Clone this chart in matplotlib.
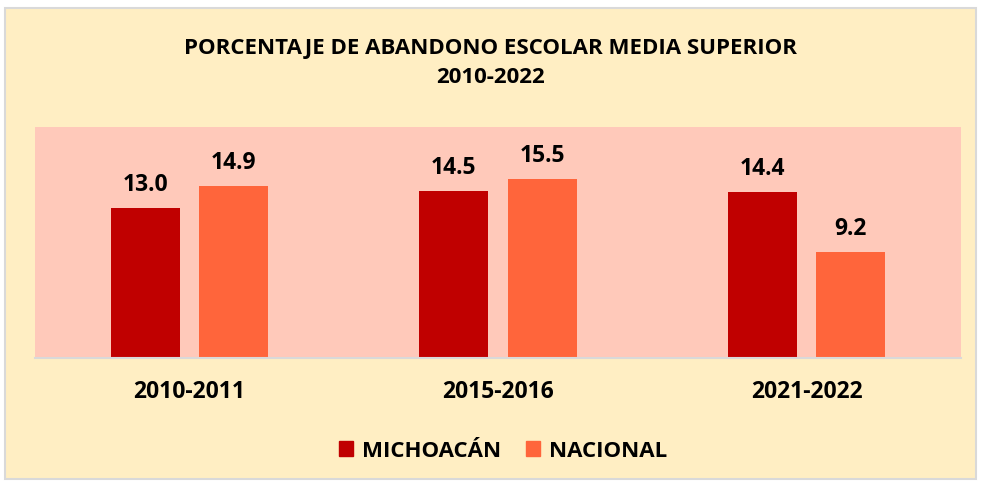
import numpy as np
import matplotlib.pyplot as plt
from matplotlib.patches import Rectangle, Patch

periods = ["2010-2011", "2015-2016", "2021-2022"]
michoacan = [13.0, 14.5, 14.4]
nacional = [14.9, 15.5, 9.2]
series_names = ["MICHOACÁN", "NACIONAL"]

title = "PORCENTAJE DE ABANDONO ESCOLAR MEDIA SUPERIOR\n2010-2022"

bg_outer = "#FFEEC3"
bg_plot = "#FFC9BA"
col_mich = "#C00000"
col_nac = "#FF653B"

plt.rcParams["font.family"] = ["Open Sans", "DejaVu Sans"]

fig = plt.figure(figsize=(9.81, 4.85), dpi=100)
fig.patch.set_facecolor("white")
fig.patches.append(Rectangle((5 / 981, 5 / 485), 971 / 981, 471 / 485, transform=fig.transFigure,
                             facecolor=bg_outer, edgecolor="#D9D9D9", linewidth=1.5, zorder=-10))

ax = fig.add_axes([35 / 981, 1 - 359 / 485, 926 / 981, 231 / 485])
ax.set_facecolor(bg_plot)

x = np.arange(len(periods))
w = 0.224
off = 0.143
b1 = ax.bar(x - off, michoacan, w, color=col_mich, label=series_names[0])
b2 = ax.bar(x + off, nacional, w, color=col_nac, label=series_names[1])
for bars, vals in ((b1, michoacan), (b2, nacional)):
	for rect, v in zip(bars, vals):
		ax.text(rect.get_x() + rect.get_width() / 2, v + 1.0, f"{v:.1f}", ha="center", va="bottom",
		        fontsize=16.5, fontweight="bold", color="black")

ax.set_xlim(-0.5, 2.5)
ax.set_ylim(0, 20)
ax.set_yticks([])
ax.set_xticks(x)
ax.set_xticklabels(periods, fontsize=16.5, fontweight="bold")
ax.tick_params(axis="x", length=0, pad=15)
for side in ["top", "left", "right"]:
	ax.spines[side].set_visible(False)
ax.spines["bottom"].set_color("#D9D9D9")
ax.spines["bottom"].set_linewidth(1.5)

fig.text(0.5, 1 - 63 / 485, title, ha="center", va="center", fontsize=16, fontweight="bold",
         linespacing=1.5)

handles = [Patch(color=col_mich), Patch(color=col_nac)]
fig.legend(handles, series_names, loc="center", bbox_to_anchor=(503 / 981, 1 - 452 / 485), ncol=2,
           frameon=False, prop={"size": 16, "weight": "bold"}, handlelength=0.65, handleheight=0.65,
           handletextpad=0.4, columnspacing=1.1)

fig.savefig("out.png", dpi=100, facecolor=fig.get_facecolor())
